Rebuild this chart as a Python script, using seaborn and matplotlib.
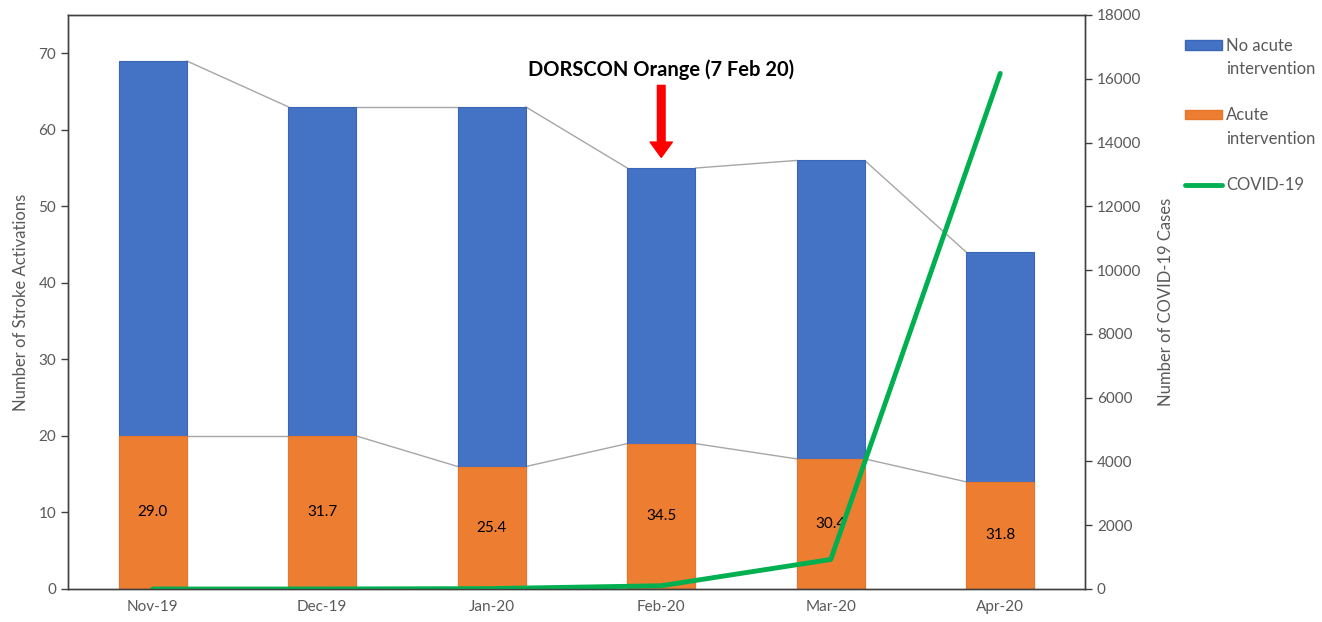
import numpy as np
import pandas as pd
import matplotlib
matplotlib.use("Agg")
import matplotlib.pyplot as plt
import seaborn as sns
from matplotlib.patches import Patch
from matplotlib.lines import Line2D

months = ["Nov-19", "Dec-19", "Jan-20", "Feb-20", "Mar-20", "Apr-20"]
acute = [20, 20, 16, 19, 17, 14]
no_acute = [49, 43, 47, 36, 39, 30]
pct_labels = ["29.0", "31.7", "25.4", "34.5", "30.4", "31.8"]
covid = [0, 0, 13, 102, 926, 16169]

sns.set_theme(style="white")
plt.rcParams['font.family'] = ['Lato', 'DejaVu Sans']

BLUE = "#4472C4"
ORANGE = "#ED7D31"
GREEN = "#00B050"
GRAY = "#595959"

totals = [a + b for a, b in zip(acute, no_acute)]
df = pd.DataFrame({"month": months, "acute": acute, "total": totals, "covid": covid})

fig = plt.figure(figsize=(13.22, 6.22), dpi=100)
ax = fig.add_axes([68/1322, 33/622, (1085-68)/1322, (589-15)/622])

sns.barplot(data=df, x="month", y="total", order=months, color=BLUE, width=0.4,
            saturation=1, edgecolor="#3A66B5", linewidth=0.8, ax=ax)
sns.barplot(data=df, x="month", y="acute", order=months, color=ORANGE, width=0.4,
            saturation=1, edgecolor="#E8762A", linewidth=0.8, ax=ax)

# series lines between bars
hw = 0.2
for i in range(len(months) - 1):
    ax.plot([i + hw, i + 1 - hw], [totals[i], totals[i + 1]], color="#A6A6A6", lw=1, zorder=0)
    ax.plot([i + hw, i + 1 - hw], [acute[i], acute[i + 1]], color="#A6A6A6", lw=1, zorder=0)

for i, (a, lab) in enumerate(zip(acute, pct_labels)):
    ax.text(i, a / 2, lab, ha="center", va="center", fontsize=11, color="black")

ax.set_xlim(-0.5, len(months) - 0.5)
ax.set_ylim(0, 75)
ax.set_yticks(range(0, 71, 10))
ax.set_xlabel("")
ax.set_ylabel("Number of Stroke Activations", fontsize=12, color=GRAY, labelpad=7)
ax.set_xticks(np.arange(len(months)))
ax.set_xticklabels(months)
ax.set_xticks(np.arange(len(months) - 1) + 0.5, minor=True)
ax.tick_params(axis="x", which="major", length=0, labelsize=11, labelcolor=GRAY, pad=8)
ax.tick_params(axis="x", which="minor", length=6, width=1, color="#404040", direction="out")
ax.tick_params(axis="y", length=5, width=1, color="#404040", direction="out", labelsize=11,
               labelcolor=GRAY, left=True)
for s in ax.spines.values():
    s.set_color("#404040")
    s.set_linewidth(1)

ax2 = ax.twinx()
sns.lineplot(x=np.arange(len(months)), y=covid, color=GREEN, lw=3.5, ax=ax2, legend=False)
ax2.set_ylim(0, 18000)
ax2.set_yticks(range(0, 18001, 2000))
ax2.set_ylabel("Number of COVID-19 Cases", fontsize=12, color=GRAY, labelpad=12)
ax2.tick_params(axis="y", length=5, width=1, color="#404040", direction="out", labelsize=11,
                labelcolor=GRAY, right=True)
for s in ax2.spines.values():
    s.set_color("#404040")
    s.set_linewidth(1)
ax.set_xlim(-0.5, len(months) - 0.5)

# annotation
ax.text(3, 67.8, "DORSCON Orange (7 Feb 20)", ha="center", va="center", fontsize=14.5,
        fontweight="bold", color="black")
ax.annotate("", xy=(3, 56.4), xytext=(3, 65.8),
            arrowprops=dict(facecolor="#FF0000", edgecolor="#FF0000", width=5.5,
                            headwidth=16, headlength=11, shrink=0))

blank = Patch(facecolor="none", edgecolor="none")
handles = [Patch(facecolor=BLUE, edgecolor="#3A66B5"), blank, blank,
           Patch(facecolor=ORANGE, edgecolor="#E8762A"), blank, blank,
           Line2D([0], [0], color=GREEN, lw=3.5)]
labels = ["No acute", "intervention", " ", "Acute", "intervention", " ", "COVID-19"]
fig.legend(handles, labels, loc="upper left", bbox_to_anchor=(1170/1322, 1 - 23/622),
           frameon=False, fontsize=12, labelcolor=GRAY, handlelength=2.2, handleheight=0.5,
           handletextpad=0.25, labelspacing=0.43)

fig.savefig("out.png", dpi=100)
